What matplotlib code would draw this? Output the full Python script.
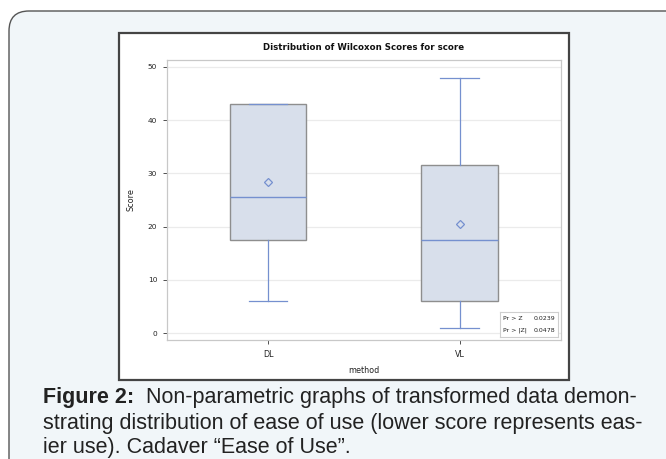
import matplotlib.pyplot as plt
from matplotlib.patches import FancyBboxPatch, Rectangle

# data
methods = ['DL', 'VL']
whislo = [6, 1]
q1 = [17.5, 6]
med = [25.5, 17.5]
q3 = [43, 31.5]
whishi = [43, 48]
means = [28.4, 20.5]
pvals = [('Pr > Z', '0.0239'), ('Pr > |Z|', '0.0478')]
yticks = [0, 10, 20, 30, 40, 50]

caption_bold = 'Figure 2:'
caption_lines = ['  Non-parametric graphs of transformed data demon-',
                 'strating distribution of ease of use (lower score represents eas-',
                 'ier use). Cadaver \u201cEase of Use\u201d.']

W, H = 666, 459
fig = plt.figure(figsize=(W / 100, H / 100), dpi=100)
fig.patch.set_facecolor('white')

# outer rounded panel of the page
panel = FancyBboxPatch((9 / W, -0.2), 1.2, (H - 11) / H + 0.2,
                       boxstyle='round,pad=0,rounding_size=0.03',
                       transform=fig.transFigure, facecolor='#f1f6f9',
                       edgecolor='#555555', linewidth=1.0, mutation_aspect=W / H,
                       zorder=-3)
fig.patches.append(panel)

# white frame of the embedded chart
frame = Rectangle((119 / W, 1 - 380 / H), (569 - 119) / W, (380 - 33) / H,
                  transform=fig.transFigure, facecolor='white',
                  edgecolor='#444444', linewidth=1.6, zorder=-2)
fig.patches.append(frame)

ax = fig.add_axes([167 / W, 1 - 340 / H, (561 - 167) / W, (340 - 60) / H])
ax.set_facecolor('white')

stats = []
for i in range(len(methods)):
    stats.append(dict(label=methods[i], whislo=whislo[i], q1=q1[i], med=med[i],
                      q3=q3[i], whishi=whishi[i], mean=means[i], fliers=[]))

line_blue = '#7590cf'
ax.bxp(stats, positions=[1, 2], widths=0.40, showmeans=True, patch_artist=True,
       boxprops=dict(facecolor='#d8dfeb', edgecolor='#8e8e8e', linewidth=1.0),
       medianprops=dict(color=line_blue, linewidth=1.0),
       whiskerprops=dict(color=line_blue, linewidth=0.9),
       capprops=dict(color=line_blue, linewidth=0.9),
       meanprops=dict(marker='D', markerfacecolor='none', markeredgecolor=line_blue,
                      markersize=4.5, markeredgewidth=0.9),
       capwidths=0.20, zorder=3)

ax.set_xlim(0.472, 2.53)
ax.set_ylim(-1.3, 51.3)
ax.set_yticks(yticks)
ax.yaxis.grid(True, color='#ebebeb', linewidth=0.9, zorder=0)
ax.set_axisbelow(True)
for s in ax.spines.values():
    s.set_color('#c8c8c8')
    s.set_linewidth(0.9)
ax.tick_params(labelsize=5.3, colors='#333333', length=3, width=0.6, pad=4)
ax.tick_params(axis='x', labelsize=5.8)
for t in ax.get_xticklabels() + ax.get_yticklabels():
    t.set_color('#222222')
ax.set_ylabel('Score', fontsize=5.8, labelpad=9, color='#222222')
ax.set_xlabel('method', fontsize=5.8, labelpad=5, color='#222222')
ax.set_title('Distribution of Wilcoxon Scores for score', fontsize=6.2,
             fontweight='bold', pad=7, color='#111111')

# p-value inset
ib = ax.inset_axes([0.845, 0.011, 0.147, 0.089])
ib.set_xticks([])
ib.set_yticks([])
ib.set_facecolor('white')
for s in ib.spines.values():
    s.set_color('#cfcfcf')
    s.set_linewidth(0.8)
for k, (lab, val) in enumerate(pvals):
    yy = 0.72 - k * 0.46
    ib.text(0.06, yy, lab, fontsize=4.5, va='center', color='#222222')
    ib.text(0.96, yy, val, fontsize=4.5, va='center', ha='right', color='#222222')

# caption
fs = 15.5
fam = ['Liberation Sans Narrow', 'Liberation Sans', 'DejaVu Sans']
y0 = 1 - 398 / H
tb = fig.text(43 / W, y0, caption_bold, fontsize=fs, fontweight='bold',
              family=fam, va='center', color='#222222')
fig.canvas.draw()
bb = tb.get_window_extent()
fig.text(bb.x1 / W, y0, caption_lines[0], fontsize=fs, family=fam,
         va='center', color='#222222')
fig.text(43 / W, 1 - 423 / H, caption_lines[1], fontsize=fs, family=fam,
         va='center', color='#222222')
fig.text(43 / W, 1 - 447 / H, caption_lines[2], fontsize=fs, family=fam,
         va='center', color='#222222')

fig.savefig('out.png', dpi=100)
